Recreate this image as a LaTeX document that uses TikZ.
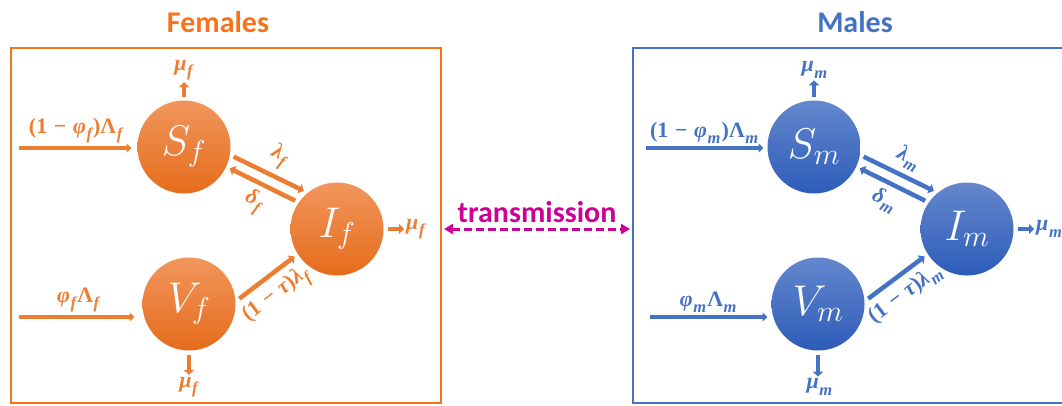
\RequirePackage{fix-cm}
\documentclass[tikz,border=0pt]{standalone}
\usepackage[no-math]{fontspec}
\usepackage{amsmath}
\newfontfamily\calibri{Carlito}
\newfontfamily\lbl{Liberation Serif}
\newcommand\sbf[1]{\kern0.03em\raisebox{-0.28em}{\scalebox{0.75}{\itshape #1}}\kern0.05em}
\newcommand\gi[1]{{\itshape #1}}
\newcommand\mns{\kern0.3em−\kern0.3em}
\usetikzlibrary{arrows.meta,calc}
\definecolor{orF}{RGB}{237,125,49}
\definecolor{orBox}{RGB}{247,115,25}
\definecolor{orTop}{RGB}{241,150,92}
\definecolor{orBot}{RGB}{230,108,28}
\definecolor{blM}{RGB}{68,114,196}
\definecolor{blTop}{RGB}{100,135,205}
\definecolor{blBot}{RGB}{45,92,184}
\definecolor{mag}{RGB}{204,0,150}
\tikzset{
  comp/.style={circle, minimum size=93pt, inner sep=0pt, outer sep=4pt, text=white, font=\fontsize{43}{46}\selectfont},
  compF/.style={comp, top color=orTop, bottom color=orBot},
  compM/.style={comp, top color=blTop, bottom color=blBot},
  flow/.style={line width=3.5pt, -{Triangle[length=5pt,width=9pt]}},
  flowk/.style={line width=4.5pt, -{Triangle[length=5pt,width=10pt]}},
  flowF/.style={flow, color=orF},
  flowM/.style={flow, color=blM},
  flowkF/.style={flowk, color=orF},
  flowkM/.style={flowk, color=blM},
  lab/.style={font=\lbl\bfseries\fontsize{22}{26}\selectfont, inner sep=2pt},
  labF/.style={lab, text=orF},
  labM/.style={lab, text=blM},
  titletext/.style={font=\calibri\bfseries\fontsize{30}{34}\selectfont},
  box/.style={draw, line width=2pt, rectangle, inner sep=0pt, minimum height=355pt},
}
\begin{document}
\begin{tikzpicture}[x=1pt,y=-1pt]
\useasboundingbox (0,0) rectangle (1062,405);
% boxes
\node[box, draw=orBox, minimum width=430pt] (F) at (226,225.5) {};
\node[box, draw=blM, minimum width=447pt] (M) at (856.5,225.5) {};
\node[titletext, text=orBox] (tF) at (218,22) {Females};
\node[titletext, text=blM] (tM) at (855,22) {Males};
% females
\node[compF] (Sf) at (184,147) {$S_f$};
\node[compF] (Vf) at (189,304) {$V_f$};
\node[compF] (If) at (337,229) {$I_f$};
\coordinate (inSf) at (19,148);
\coordinate (inVf) at (19,317);
\draw[flowF, shorten >=2pt] (inSf) -- (inSf -| Sf.west) node[labF, midway, above=1pt] {(1\mns\gi{φ}\sbf{f})Λ\sbf{f}};
\draw[flowF, shorten >=4pt] (inVf) -- (inVf -| Vf.west) node[labF, midway, above=1pt] {\gi{φ}\sbf{f}Λ\sbf{f}};
\node[labF] (muSf) at (184,70) {\gi{μ}\sbf{f}};
\node[labF] (muVf) at (189,387) {\gi{μ}\sbf{f}};
\node[labF, anchor=west] (muIf) at (404,229) {\gi{μ}\sbf{f}};
\draw[flowkF] (Sf.north) -- (Sf.north |- muSf.south);
\draw[flowkF] (Vf.south) -- (Vf.south |- muVf.north);
\draw[flowkF] (If.east) -- (muIf.west);
\draw[flowkF] (Sf.-11) -- (If.131) node[labF, pos=0.53, above=3pt, sloped] {\gi{λ}\sbf{f}};
\draw[flowkF] (If.146) -- (Sf.-25) node[labF, pos=0.5, below=3pt, sloped] {\gi{δ}\sbf{f}};
\draw[flowkF] (Vf.6) -- (If.213) node[labF, pos=0.46, below=4pt, sloped] {(1\mns\gi{τ})\gi{λ}\sbf{f}};
% males
\node[compM] (Sm) at (814,147) {$S_m$};
\node[compM] (Vm) at (818,304) {$V_m$};
\node[compM] (Im) at (967,229) {$I_m$};
\coordinate (inSm) at (646,148);
\coordinate (inVm) at (650,317);
\draw[flowM] (inSm) -- (inSm -| Sm.west) node[labM, midway, above=1pt] {(1\mns\gi{φ}\sbf{m})Λ\sbf{m}};
\draw[flowM] (inVm) -- (inVm -| Vm.west) node[labM, midway, above=1pt] {\gi{φ}\sbf{m}Λ\sbf{m}};
\node[labM] (muSm) at (815,70) {\gi{μ}\sbf{m}};
\node[labM] (muVm) at (820,387) {\gi{μ}\sbf{m}};
\node[labM, anchor=west] (muIm) at (1034,229) {\gi{μ}\sbf{m}};
\draw[flowkM] (Sm.north) -- (Sm.north |- muSm.south);
\draw[flowkM] (Vm.south) -- (Vm.south |- muVm.north);
\draw[flowkM] (Im.east) -- (muIm.west);
\draw[flowkM] (Sm.-11) -- (Im.131) node[labM, pos=0.53, above=3pt, sloped] {\gi{λ}\sbf{m}};
\draw[flowkM] (Im.146) -- (Sm.-25) node[labM, pos=0.5, below=3pt, sloped] {\gi{δ}\sbf{m}};
\draw[flowkM] (Vm.6) -- (Im.213) node[labM, pos=0.46, below=4pt, sloped] {(1\mns\gi{τ})\gi{λ}\sbf{m}};
% transmission
\draw[mag, line width=3pt, dash pattern=on 8pt off 4pt, {Triangle[length=9pt,width=10pt]}-{Triangle[length=9pt,width=10pt]}, shorten <=2pt, shorten >=2pt] (F.east |- If) -- (M.west |- Im) node[midway, above=1pt, font=\calibri\bfseries\fontsize{30}{34}\selectfont, text=mag] {transmission};
\end{tikzpicture}
\end{document}
